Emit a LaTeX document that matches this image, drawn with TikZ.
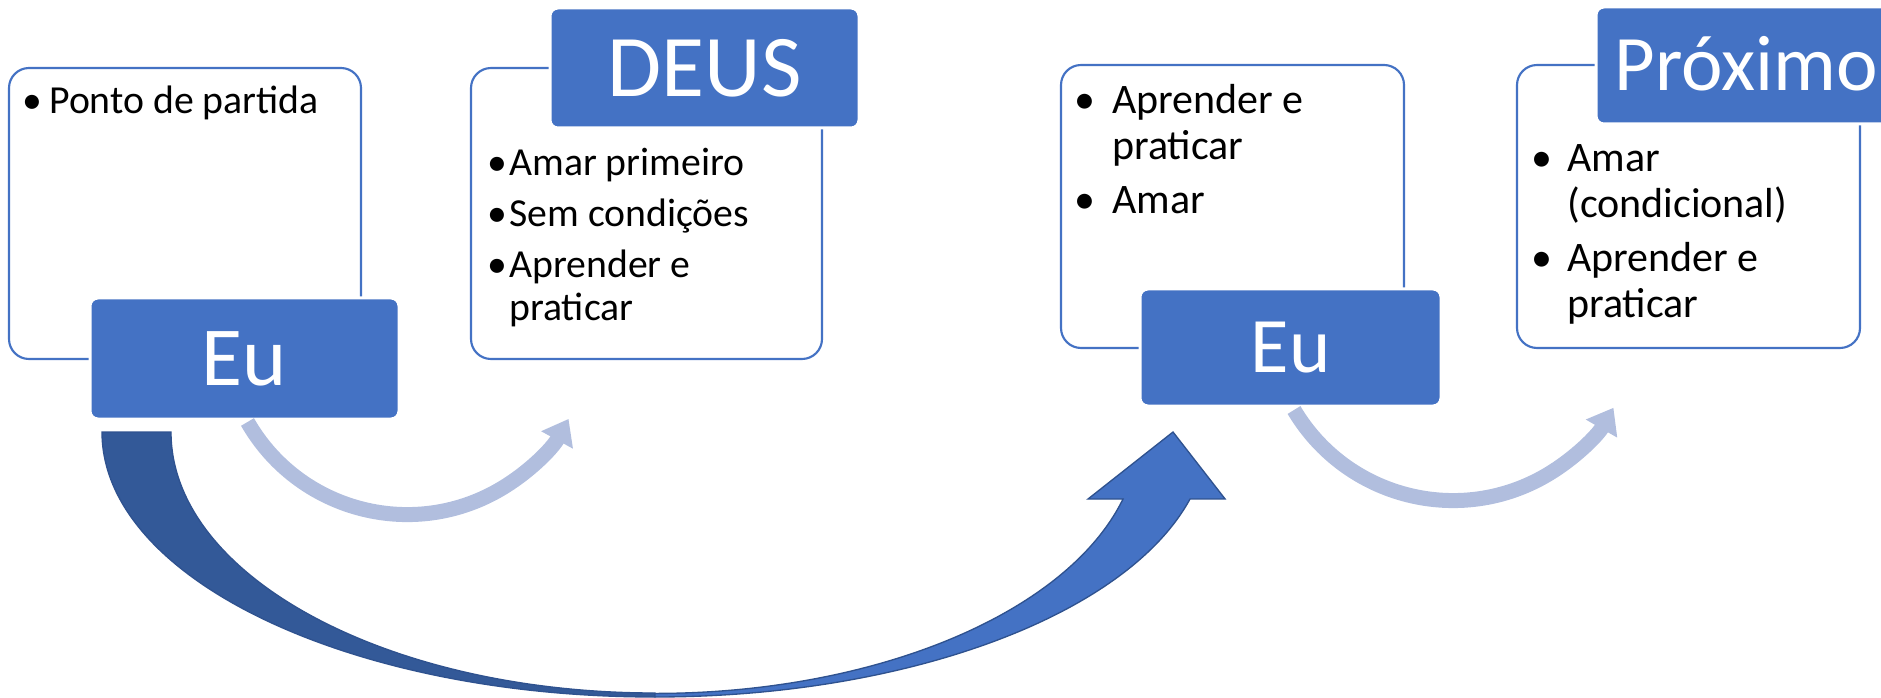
\documentclass[tikz,border=0pt]{standalone}
\usepackage{fontspec}
\setmainfont{Carlito}
\usetikzlibrary{arrows.meta}
\definecolor{accent}{RGB}{68,114,196}
\definecolor{deepblue}{RGB}{51,89,152}
\definecolor{rimblue}{RGB}{47,82,143}
\definecolor{softblue}{RGB}{177,190,222}
\newcommand{\bul}[1]{\makebox[#1]{•}}

\begin{document}
\begin{tikzpicture}[x=0.75pt,y=0.75pt,
  % white list panels + blue title tags (1 unit = 1px of the slide, y upwards)
  panel/.style={draw=accent, line width=1.6pt, fill=white, rounded corners=15pt,
                inner sep=0pt, outer sep=0pt},
  tag/.style={draw=white, line width=2.25pt, fill=accent, rounded corners=6pt,
              text=white, inner sep=0pt, outer sep=0pt, text depth=0pt},
  pts/.style={anchor=base west, inner sep=0pt, align=left},   % base = last line
  itemsA/.style={font=\fontsize{29.8pt}{32.25pt}\selectfont},
  itemsB/.style={font=\fontsize{31.5pt}{34.5pt}\selectfont},
  % arrows: light arc = step inside a stage, swoop = stage to stage
  soft/.style={draw=softblue, line width=11.25pt, -{Triangle[length=18pt,width=26pt]}},
  swoop/.style={draw=rimblue, line width=1pt, line join=miter},
  ]
  \useasboundingbox (0,0) rectangle (1881,697);
  \clip (0,0) rectangle (1881,697);
  % ---- panels --------------------------------------------------------------
  \node[panel, minimum width=264pt,    minimum height=218.25pt] (box1) at (185,483.5)    {};
  \node[panel, minimum width=263.25pt, minimum height=218.25pt] (box2) at (646.5,483.5)  {};
  \node[panel, minimum width=257.25pt, minimum height=212.25pt] (box3) at (1232.5,490.5) {};
  \node[panel, minimum width=257.25pt, minimum height=212.25pt] (box4) at (1688.5,490.5) {};
  % ---- title tags (Próximo runs off the right edge) -------------------------
  \node[tag, minimum width=231.75pt, minimum height=90.75pt,
        font=\fontsize{63pt}{63pt}\selectfont] (eu1) at (244.5,338.5) {Eu};
  \node[tag, minimum width=231.75pt, minimum height=90pt,
        font=\fontsize{66pt}{66pt}\selectfont] (deus) at (704.5,629) {DEUS};
  \node[tag, minimum width=225.75pt, minimum height=87.75pt,
        font=\fontsize{59pt}{59pt}\selectfont] (eu2) at (1290.5,349.5) {Eu};
  \node[tag, minimum width=225.75pt, minimum height=87.75pt, text height=37.3pt,
        font=\fontsize{59pt}{59pt}\selectfont] (prox) at (1746.5,631.5) {Próximo};
  % ---- bullet lists (placed by the baseline of their last line) -------------
  \node[pts, itemsA] (list1) at ([shift={(6,-46)}]box1.north west)
    {\bul{25.5pt}Ponto de partida};
  \node[pts, itemsA] (list2) at ([shift={(15,-253)}]box2.north west)
    {\bul{17.25pt}Amar primeiro\\[6pt]\bul{17.25pt}Sem condições\\[6pt]%
     \bul{17.25pt}Aprender e\\\hspace*{17.25pt}praticar};
  \node[pts, itemsB] (list3) at ([shift={(-3,-149)}]box3.north west)
    {\bul{40.5pt}Aprender e\\\hspace*{40.5pt}praticar\\[6pt]\bul{40.5pt}Amar};
  \node[pts, itemsB] (list4) at ([shift={(-1,-253)}]box4.north west)
    {\bul{38.25pt}Amar\\\hspace*{38.25pt}(condicional)\\[6pt]%
     \bul{38.25pt}Aprender e\\\hspace*{38.25pt}praticar};
  % ---- light arcs under each Eu ---------------------------------------------
  \draw[soft] ([shift={(3,-3)}]eu1.south) arc[start angle=209.8, end angle=331.3, radius=184];
  \draw[soft] ([shift={(3.5,-4)}]eu2.south) arc[start angle=210.7, end angle=330.1, radius=185];
  % ---- big curved arrow Eu -> Eu (shaded back half, plain front half) -------
  \coordinate (dip) at (655,0);
  \coordinate (tip) at ([shift={(33,-26)}]eu2.south west);
  \filldraw[swoop, fill=deepblue] (dip)
    arc[start angle=270, end angle=180, x radius=553, y radius=265] -- ++(69,0)
    arc[start angle=180, end angle=270, x radius=484, y radius=261] -- cycle;
  \filldraw[swoop, fill=accent] (dip)
    arc[start angle=270, end angle=345.37, x radius=553, y radius=265]
    -- ++(35,0) -- (tip) -- ++(-85,-67) -- ++(35,0)
    arc[start angle=345.22, end angle=270, x radius=484, y radius=261] -- cycle;
\end{tikzpicture}
\end{document}
